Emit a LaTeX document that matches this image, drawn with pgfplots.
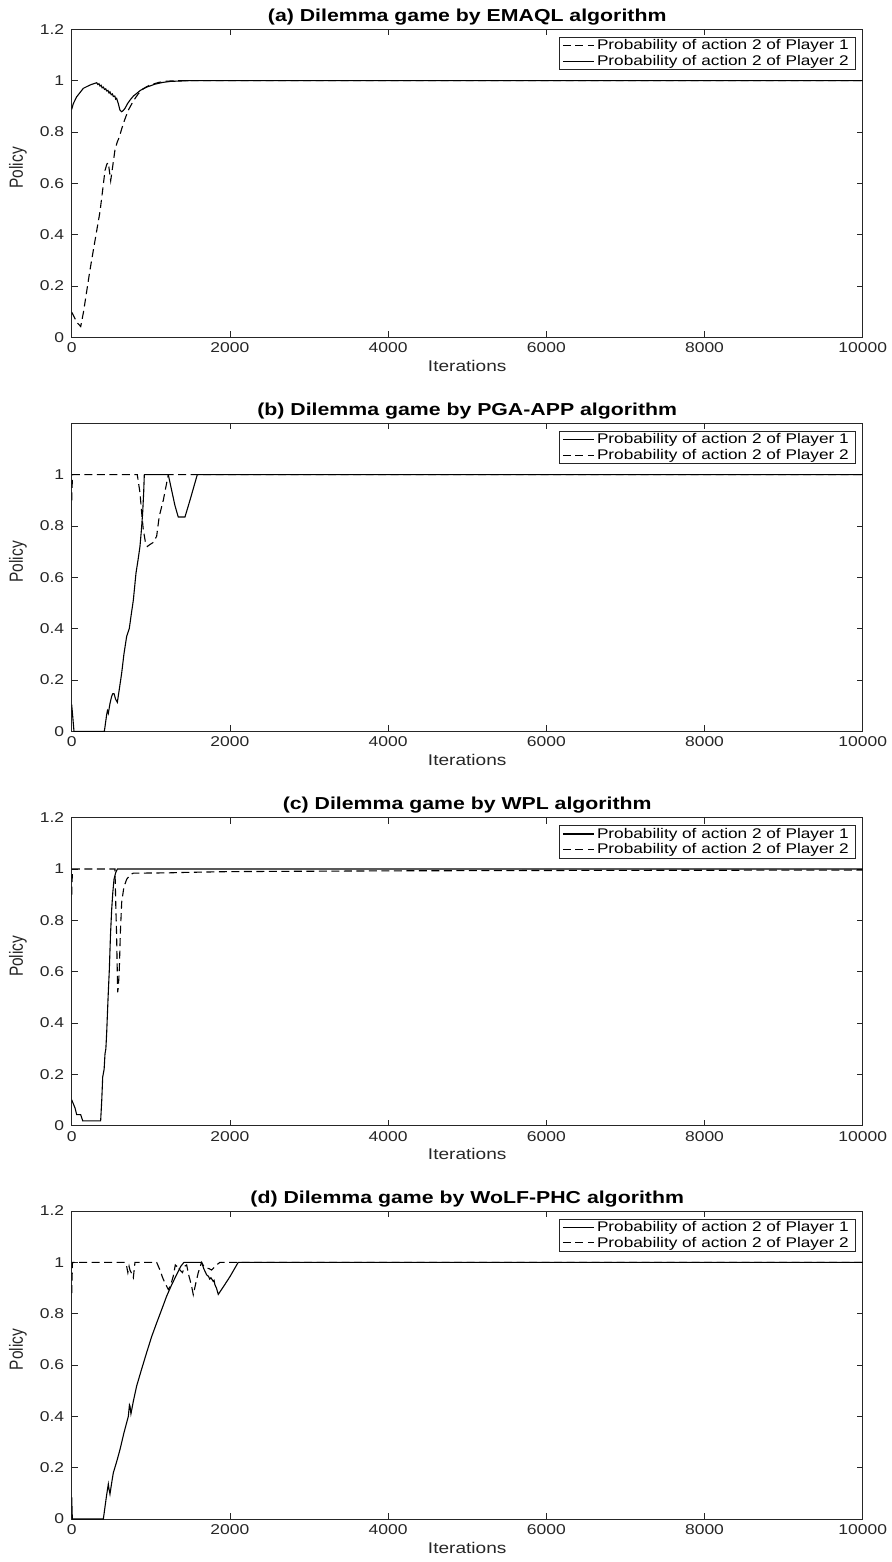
\documentclass[border=0pt]{standalone}
\usepackage{fontspec}
\setmainfont{Liberation Sans}[FakeStretch=1.23]
\newfontfamily\plainfont{Liberation Sans}
\usepackage{graphicx}
\usepackage{pgfplots}
\pgfplotsset{compat=1.18}
\newcommand{\tickfont}{\fontsize{14.2pt}{17pt}\selectfont}
\newcommand{\labfont}{\fontsize{15.5pt}{18pt}\selectfont}
\newcommand{\ylabfont}{\plainfont\fontsize{15.5pt}{18pt}\selectfont}
\newcommand{\legfont}{\fontsize{14pt}{16pt}\selectfont}
\newcommand{\titfont}{\fontsize{17.3pt}{20pt}\selectfont\bfseries}
\pgfplotsset{
  myaxis/.style={
    scale only axis, width=791pt, height=308pt,
    xmin=0, xmax=10000, ymin=0, ymax=1.2,
    scaled x ticks=false, scaled y ticks=false,
    xtick={0,2000,4000,6000,8000,10000},
    xticklabels={0,2000,4000,6000,8000,10000},
    ytick={0,0.2,0.4,0.6,0.8,1,1.2},
    yticklabels={0,0.2,0.4,0.6,0.8,1,1.2},
    /pgf/number format/assume math mode=true,
    tick align=inside, major tick length=6pt,
    tick style={black!85, line width=0.6pt},
    axis line style={black!85, line width=0.6pt},
    xticklabel style={font=\tickfont, text=black!85, yshift=-2pt},
    yticklabel style={font=\tickfont, text=black!85, xshift=-4pt},
    xlabel={Iterations}, ylabel={\scalebox{1}[1.23]{Policy}},
    every axis x label/.style={at={(axis description cs:0.5,0)}, anchor=base, yshift=-34pt, font=\labfont, text=black!85},
    every axis y label/.style={at={(axis description cs:-0.0679,0.55)}, rotate=90, anchor=center, font=\ylabfont, text=black!85},
    every axis title/.style={at={(axis description cs:0.5,1)}, anchor=base, yshift=8pt, font=\titfont},
    legend style={at={(axis description cs:1,1)}, anchor=north east, xshift=-7.7pt, yshift=-7.7pt,
      draw=black!85, line width=0.5pt, fill=white, font=\legfont, inner xsep=3.5pt, inner ysep=0.5pt,
      row sep=0pt, nodes={inner xsep=2.5pt, inner ysep=2pt, anchor=west}},
    legend cell align=left,
    legend image code/.code={\draw[#1] (0pt,0pt) -- (31pt,0pt);},
    clip=true,
  },
  solidl/.style={black, line width=1.1pt},
  dashl/.style={black, line width=1.1pt, dash pattern=on 8pt off 4.5pt},
}
\begin{document}
\begin{tikzpicture}
% (a)
\begin{axis}[myaxis, at={(0pt,0pt)}, anchor=north west,
  title={(a) Dilemma game by EMAQL algorithm}]
\addplot[dashl] coordinates {
(0,0.098) (30,0.08) (63,0.059) (114,0.042) (150,0.10) (190,0.18) (230,0.26) (274,0.34) (316,0.415) (358,0.49) (390,0.57) (421,0.65) (445,0.675) (463,0.68) (480,0.64) (493,0.61) (520,0.67) (547,0.73) (575,0.76) (602,0.78) (630,0.81) (653,0.833) (685,0.86) (716,0.885) (760,0.91) (800,0.93) (840,0.948) (884,0.963) (940,0.975) (989,0.983) (1100,0.993) (1200,0.998) (1400,1) (10000,1)};
\addlegendentry{Probability of action 2 of Player 1}
\addplot[solidl] coordinates {
(0,0.888) (20,0.91) (63,0.937) (147,0.970) (232,0.983) (316,0.992) (330,0.985) (345,0.988) (358,0.979) (372,0.982) (385,0.972) (400,0.975) (415,0.966) (430,0.968) (442,0.960) (458,0.962) (472,0.952) (484,0.956) (500,0.945) (515,0.948) (526,0.938) (545,0.940) (556,0.928) (568,0.931) (589,0.911) (610,0.885) (632,0.879) (650,0.883) (674,0.892) (705,0.910) (737,0.924) (780,0.940) (821,0.950) (860,0.960) (900,0.968) (950,0.975) (989,0.979) (1050,0.986) (1150,0.993) (1250,0.997) (1326,0.998) (1500,1) (10000,1)};
\addlegendentry{Probability of action 2 of Player 2}
\end{axis}
% (b)
\begin{axis}[myaxis, at={(0pt,-394pt)}, anchor=north west,
  ytick={0,0.2,0.4,0.6,0.8,1}, yticklabels={0,0.2,0.4,0.6,0.8,1},
  title={(b) Dilemma game by PGA-APP algorithm}]
\addplot[solidl] coordinates {
(0,0.104) (29,0) (413,0) (442,0.065) (452,0.08) (463,0.07) (485,0.11) (505,0.136) (520,0.147) (535,0.147) (555,0.125) (577,0.113) (600,0.16) (632,0.227) (660,0.30) (695,0.37) (728,0.40) (755,0.46) (779,0.51) (813,0.617) (840,0.67) (863,0.72) (880,0.78) (897,0.85) (910,0.93) (918,1.0) (1221,1.0) (1263,0.94) (1305,0.88) (1347,0.835) (1432,0.835) (1495,0.90) (1588,1.0) (10000,1)};
\addlegendentry{Probability of action 2 of Player 1}
\addplot[dashl] coordinates {
(0,0.9) (10,1) (829,1) (863,0.93) (885,0.85) (905,0.786) (930,0.74) (956,0.72) (990,0.728) (1032,0.736) (1074,0.76) (1107,0.838) (1158,0.90) (1221,1) (10000,1)};
\addlegendentry{Probability of action 2 of Player 2}
\end{axis}
% (c)
\begin{axis}[myaxis, at={(0pt,-788.4pt)}, anchor=north west,
  title={(c) Dilemma game by WPL algorithm}]
\addplot[solidl] coordinates {
(0,0.101) (42,0.069) (63,0.043) (114,0.043) (139,0.019) (366,0.019) (380,0.10) (392,0.19) (410,0.22) (421,0.28) (432,0.30) (442,0.36) (460,0.50) (476,0.61) (490,0.74) (505,0.84) (520,0.91) (535,0.96) (555,0.985) (577,1) (10000,1)};
\addlegendentry{Probability of action 2 of Player 1}
\addplot[dashl] coordinates {
(0,0.9) (10,1) (547,1) (558,0.85) (568,0.74) (581,0.52) (590,0.54) (602,0.61) (615,0.75) (632,0.87) (660,0.93) (695,0.96) (740,0.978) (779,0.984) (1200,0.985) (1453,0.987) (2000,0.99) (4000,0.993) (7000,0.995) (10000,0.996)};
\addlegendentry{Probability of action 2 of Player 2}
\end{axis}
% (d)
\begin{axis}[myaxis, at={(0pt,-1181.7pt)}, anchor=north west,
  title={(d) Dilemma game by WoLF-PHC algorithm}]
\addplot[solidl] coordinates {
(0,0.084) (8,0) (400,0) (440,0.09) (463,0.136) (470,0.12) (484,0.097) (505,0.14) (526,0.18) (570,0.225) (610,0.27) (660,0.335) (716,0.40) (730,0.445) (737,0.44) (749,0.41) (780,0.46) (821,0.518) (880,0.58) (947,0.648) (1010,0.71) (1074,0.764) (1140,0.818) (1200,0.868) (1260,0.91) (1326,0.952) (1380,0.985) (1419,1) (1642,1) (1670,0.975) (1705,0.952) (1730,0.945) (1745,0.935) (1760,0.94) (1789,0.926) (1800,0.93) (1810,0.913) (1830,0.90) (1853,0.875) (1920,0.906) (2000,0.944) (2105,1) (10000,1)};
\addlegendentry{Probability of action 2 of Player 1}
\addplot[dashl] coordinates {
(0,0.88) (10,1) (674,1) (695,0.984) (710,0.96) (725,0.985) (737,0.97) (760,0.955) (779,0.94) (800,1) (1074,1) (1116,0.97) (1150,0.94) (1179,0.92) (1221,0.894) (1250,0.91) (1284,0.946) (1310,0.99) (1326,0.985) (1340,0.99) (1368,0.97) (1400,0.96) (1430,0.985) (1453,0.99) (1480,0.95) (1516,0.907) (1537,0.874) (1570,0.92) (1600,0.96) (1642,1) (1670,0.985) (1705,0.978) (1740,0.975) (1768,0.97) (1800,0.98) (1832,0.99) (1874,1) (10000,1)};
\addlegendentry{Probability of action 2 of Player 2}
\end{axis}
\pgfresetboundingbox
\path (-71.7pt,29.3pt) rectangle (819.3pt,-1532.7pt);
\end{tikzpicture}
\end{document}
